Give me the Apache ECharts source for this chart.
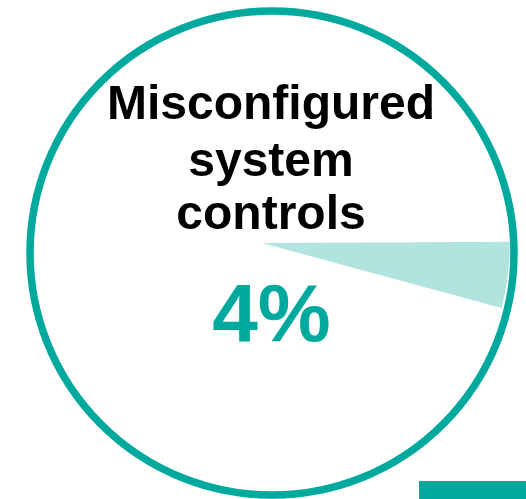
<!DOCTYPE html>
<html>
<head>
<meta charset="utf-8">
<script src="https://cdn.jsdelivr.net/npm/echarts@6/dist/echarts.min.js"></script>
<style>
html,body{margin:0;padding:0;background:#fff;}
#c{width:526px;height:499px;}
</style>
</head>
<body>
<div id="c"></div>
<script>
var categories = ['Misconfigured system controls', 'Other'];
var values = [4.3, 95.7];
var titleLines = ['Misconfigured', 'system', 'controls'];

var TEAL = '#00A99D';
var LIGHT = '#B2E4DF';

var chart = echarts.init(document.getElementById('c'), null, {renderer: 'canvas'});
var lineYs = [105.5, 163, 215.5];
var graphics = [];
titleLines.forEach(function (t, i) {
  graphics.push({
    type: 'text', z: 20, x: 271, y: lineYs[i],
    style: {text: t, fill: '#000', font: 'bold 48px "Liberation Sans", Arial, sans-serif',
      textAlign: 'center', textVerticalAlign: 'middle'}
  });
});
graphics.push({
  type: 'text', z: 20, x: 271.5, y: 318,
  style: {text: Math.round(values[0]) + '%', fill: TEAL, font: 'bold 82px "Liberation Sans", Arial, sans-serif',
    textAlign: 'center', textVerticalAlign: 'middle'}
});
graphics.push({
  type: 'circle', z: 15, shape: {cx: 272, cy: 253, r: 242},
  style: {fill: 'none', stroke: TEAL, lineWidth: 7.5}
});
graphics.push({
  type: 'rect', z: 15, shape: {x: 419, y: 481, width: 107, height: 18},
  style: {fill: TEAL}
});

chart.setOption({
  animation: false,
  backgroundColor: '#ffffff',
  graphic: graphics,
  series: [{
    type: 'pie',
    center: [262, 243],
    radius: [0, 248],
    startAngle: 0.3,
    clockwise: true,
    silent: true,
    label: {show: false},
    labelLine: {show: false},
    emphasis: {disabled: true},
    data: categories.map(function (c, i) {
      return {name: c, value: values[i],
        itemStyle: {color: i === 0 ? LIGHT : 'rgba(0,0,0,0)', borderWidth: 0}};
    })
  }]
});
</script>
</body>
</html>
